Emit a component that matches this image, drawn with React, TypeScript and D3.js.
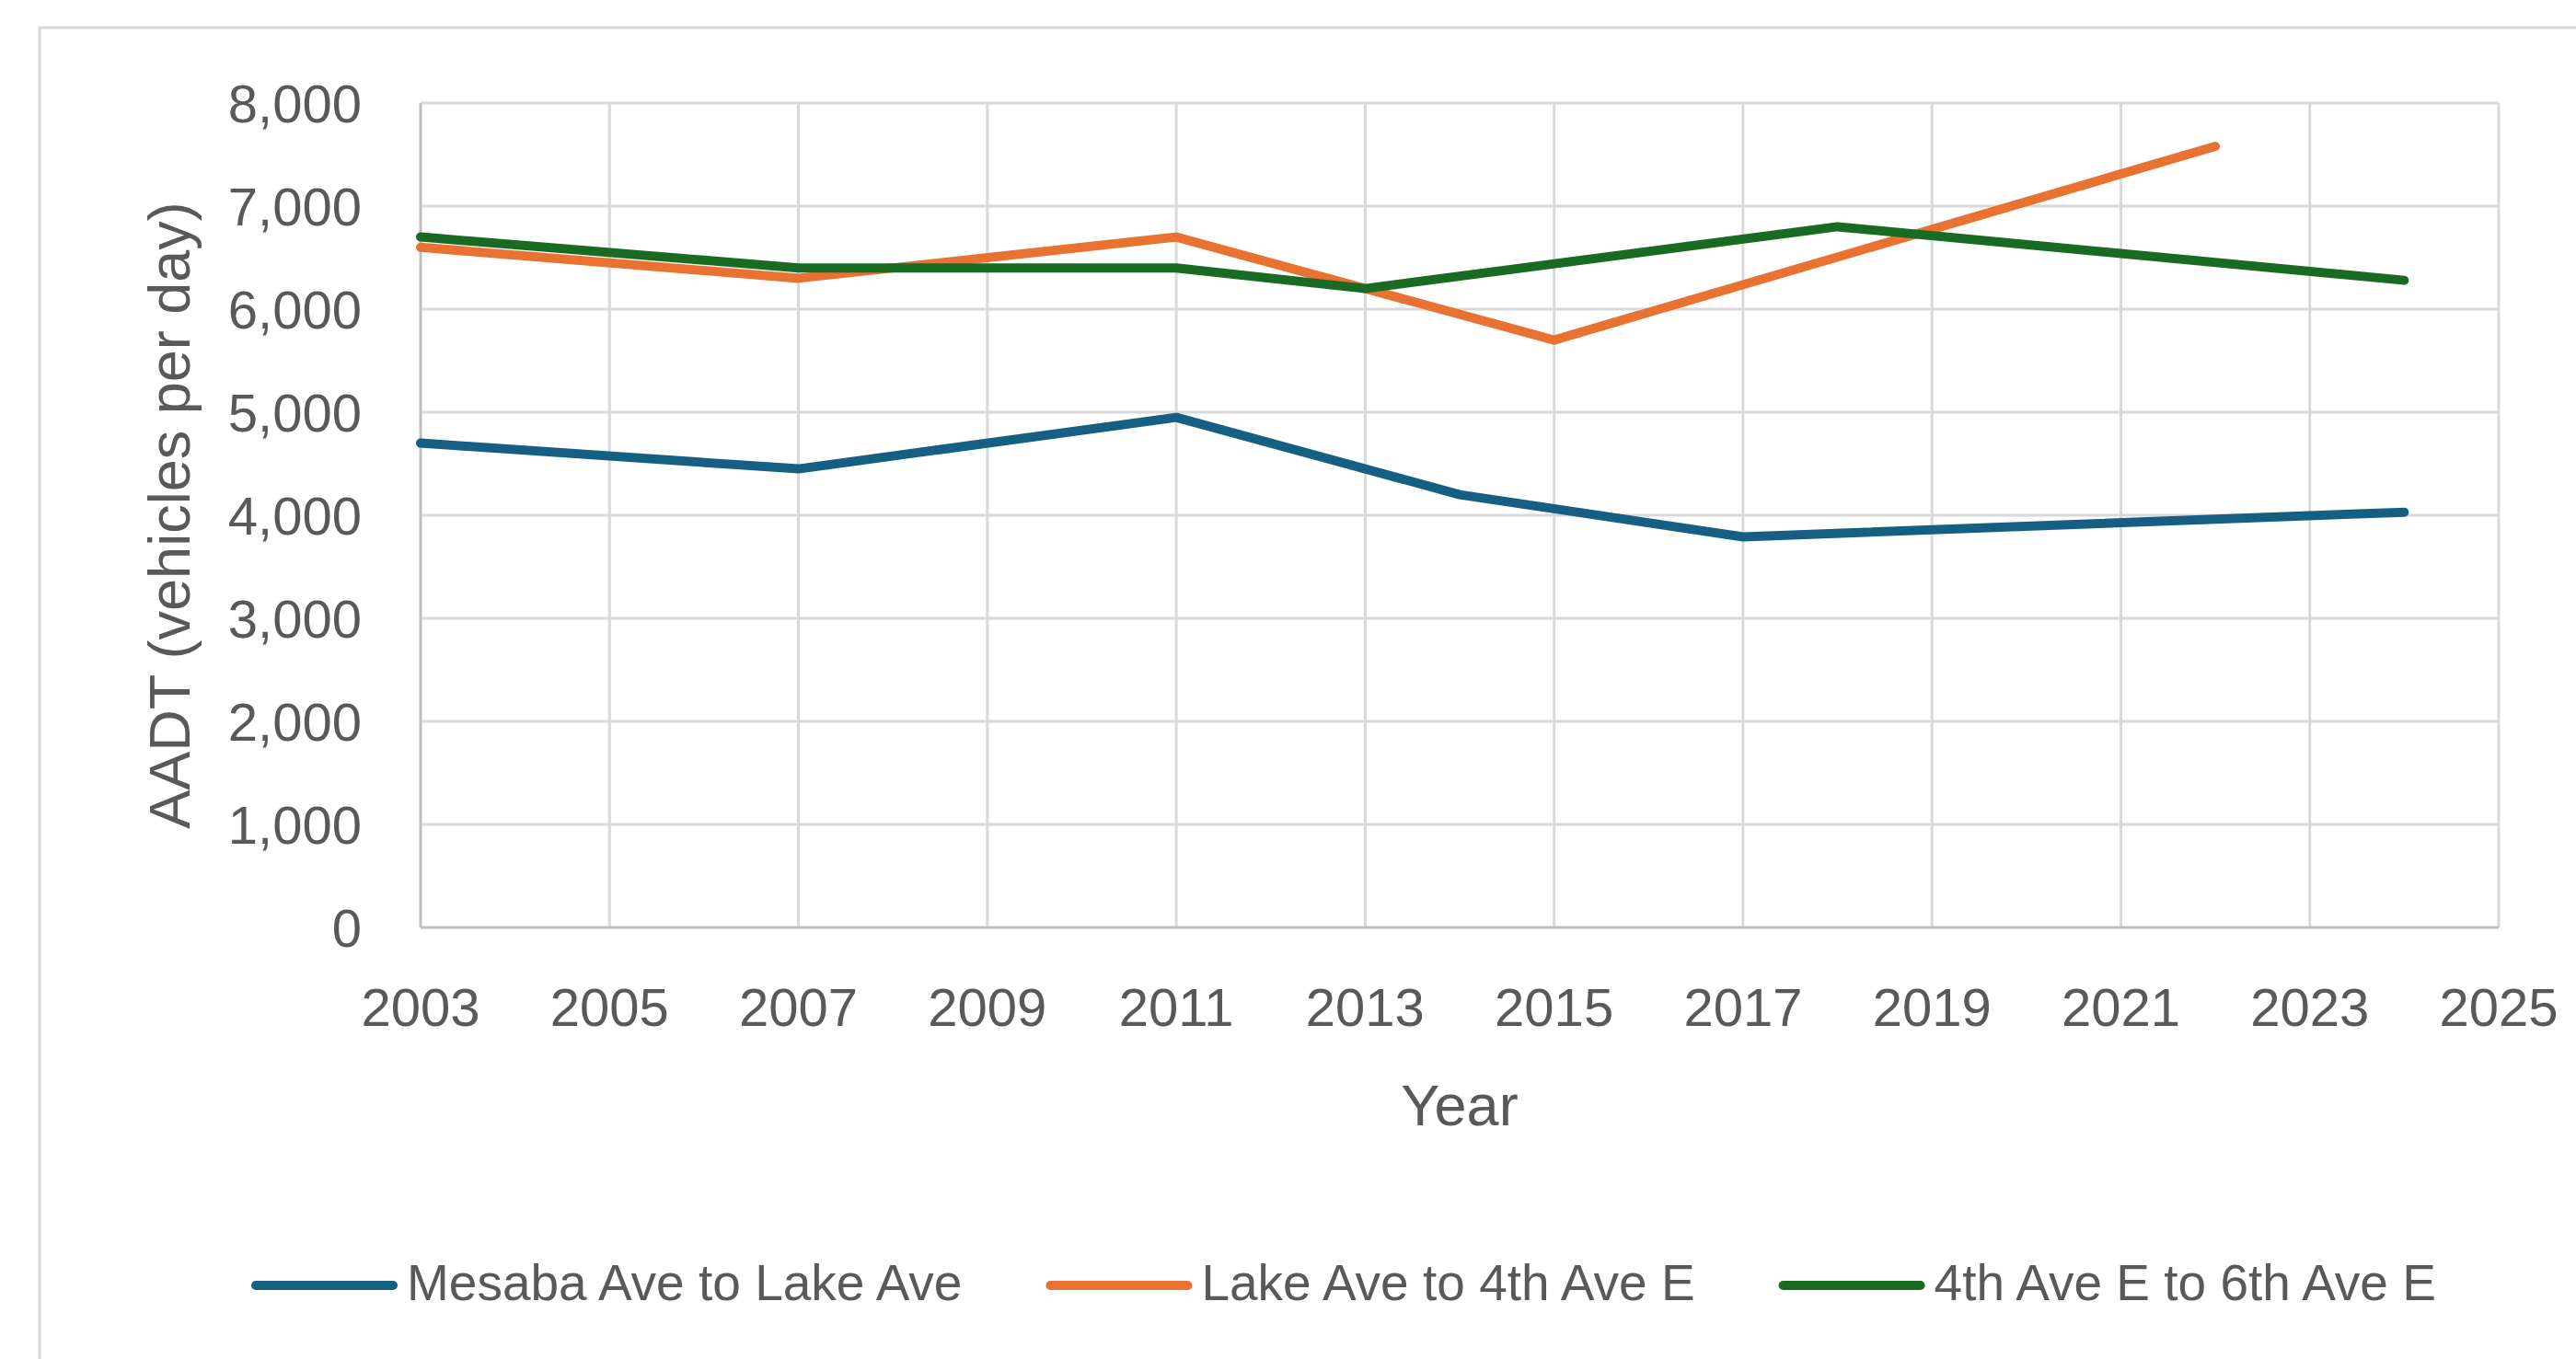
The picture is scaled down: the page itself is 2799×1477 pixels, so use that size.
import { useEffect, useRef } from "react";
import * as d3 from "d3";

const WIDTH = 2799;
const HEIGHT = 1477;

const X_TICKS = [2003, 2005, 2007, 2009, 2011, 2013, 2015, 2017, 2019, 2021, 2023, 2025];
const Y_TICKS = [0, 1000, 2000, 3000, 4000, 5000, 6000, 7000, 8000];

const SERIES_NAMES = ["Mesaba Ave to Lake Ave", "Lake Ave to 4th Ave E", "4th Ave E to 6th Ave E"];
const SERIES_COLORS = ["#156082", "#E97132", "#196B24"];

const mesabaYears = [2003, 2007, 2011, 2014, 2017, 2024];
const mesabaValues = [4700, 4450, 4950, 4200, 3790, 4030];

const lakeYears = [2003, 2007, 2011, 2015, 2022];
const lakeValues = [6600, 6300, 6700, 5700, 7580];

const fourthYears = [2003, 2007, 2011, 2013, 2018, 2024];
const fourthValues = [6700, 6400, 6400, 6200, 6800, 6280];

type Point = { year: number; value: number };

const zip = (years: number[], values: number[]): Point[] =>
  years.map((year, i) => ({ year, value: values[i] }));

const SERIES: Point[][] = [
  zip(mesabaYears, mesabaValues),
  zip(lakeYears, lakeValues),
  zip(fourthYears, fourthValues),
];

const FONT = "'Liberation Sans', Arial, sans-serif";
const TEXT = "#595959";
const GRID = "#d9d9d9";

export default function App() {
  const svgRef = useRef<SVGSVGElement | null>(null);

  useEffect(() => {
    document.body.style.margin = "0";
    const svgElement = svgRef.current;
    if (!svgElement) return;

    const margin = { top: 112, right: WIDTH - 2715, bottom: HEIGHT - 1008, left: 457 };
    const chartWidth = WIDTH - margin.left - margin.right;
    const chartHeight = HEIGHT - margin.top - margin.bottom;

    const x = d3.scaleLinear().domain([2003, 2025]).range([0, chartWidth]);
    const y = d3.scaleLinear().domain([0, 8000]).range([chartHeight, 0]);

    const svg = d3.select(svgElement);
    svg.selectAll("*").remove();

    svg.append("rect").attr("width", WIDTH).attr("height", HEIGHT).attr("fill", "#fff");

    // chart frame, cut off at right/bottom like the source image
    svg
      .append("rect")
      .attr("x", 43)
      .attr("y", 30)
      .attr("width", 3000)
      .attr("height", 1600)
      .attr("fill", "none")
      .attr("stroke", GRID)
      .attr("stroke-width", 3);

    const chart = svg.append("g").attr("transform", `translate(${margin.left}, ${margin.top})`);

    chart
      .append("g")
      .selectAll("line")
      .data(Y_TICKS.filter((t) => t > 0))
      .join("line")
      .attr("x1", 0)
      .attr("x2", chartWidth)
      .attr("y1", (d) => y(d))
      .attr("y2", (d) => y(d))
      .attr("stroke", GRID)
      .attr("stroke-width", 3);

    chart
      .append("g")
      .selectAll("line")
      .data(X_TICKS.filter((t) => t > 2003))
      .join("line")
      .attr("x1", (d) => x(d))
      .attr("x2", (d) => x(d))
      .attr("y1", 0)
      .attr("y2", chartHeight)
      .attr("stroke", GRID)
      .attr("stroke-width", 3);

    // axis lines
    chart
      .append("line")
      .attr("x1", 0)
      .attr("x2", 0)
      .attr("y1", 0)
      .attr("y2", chartHeight)
      .attr("stroke", "#bfbfbf")
      .attr("stroke-width", 3);
    chart
      .append("line")
      .attr("x1", 0)
      .attr("x2", chartWidth)
      .attr("y1", chartHeight)
      .attr("y2", chartHeight)
      .attr("stroke", "#bfbfbf")
      .attr("stroke-width", 3);

    const fmt = d3.format(",");

    chart
      .append("g")
      .selectAll("text")
      .data(Y_TICKS)
      .join("text")
      .attr("x", -64)
      .attr("y", (d) => y(d))
      .attr("dy", "0.36em")
      .attr("text-anchor", "end")
      .attr("font-family", FONT)
      .attr("font-size", 58)
      .attr("fill", TEXT)
      .text((d) => fmt(d));

    chart
      .append("g")
      .selectAll("text")
      .data(X_TICKS)
      .join("text")
      .attr("x", (d) => x(d))
      .attr("y", chartHeight + 107)
      .attr("text-anchor", "middle")
      .attr("font-family", FONT)
      .attr("font-size", 58)
      .attr("fill", TEXT)
      .text((d) => `${d}`);

    const line = d3
      .line<Point>()
      .x((d) => x(d.year))
      .y((d) => y(d.value));

    SERIES.forEach((points, i) => {
      chart
        .append("path")
        .datum(points)
        .attr("d", line)
        .attr("fill", "none")
        .attr("stroke", SERIES_COLORS[i])
        .attr("stroke-width", 10)
        .attr("stroke-linejoin", "round")
        .attr("stroke-linecap", "round");
    });

    // axis titles
    svg
      .append("text")
      .attr("transform", `translate(206, ${margin.top + chartHeight / 2}) rotate(-90)`)
      .attr("text-anchor", "middle")
      .attr("font-family", FONT)
      .attr("font-size", 63)
      .attr("fill", TEXT)
      .text("AADT (vehicles per day)");

    svg
      .append("text")
      .attr("x", margin.left + chartWidth / 2)
      .attr("y", 1223)
      .attr("text-anchor", "middle")
      .attr("font-family", FONT)
      .attr("font-size", 63)
      .attr("fill", TEXT)
      .text("Year");

    // legend
    const legend = svg.append("g").attr("transform", "translate(278, 1397)");
    let offset = 0;
    SERIES_NAMES.forEach((name, i) => {
      const group = legend.append("g").attr("transform", `translate(${offset}, 0)`);
      group
        .append("line")
        .attr("x1", 0)
        .attr("x2", 149)
        .attr("stroke", SERIES_COLORS[i])
        .attr("stroke-width", 10)
        .attr("stroke-linecap", "round");
      const label = group
        .append("text")
        .attr("x", 164)
        .attr("y", 16)
        .attr("font-family", FONT)
        .attr("font-size", 55)
        .attr("fill", TEXT)
        .text(name);
      const textWidth = (label.node() as SVGTextElement).getComputedTextLength();
      offset += 164 + textWidth + 96;
    });
  }, []);

  return <svg ref={svgRef} width={WIDTH} height={HEIGHT} style={{ display: "block" }} />;
}
